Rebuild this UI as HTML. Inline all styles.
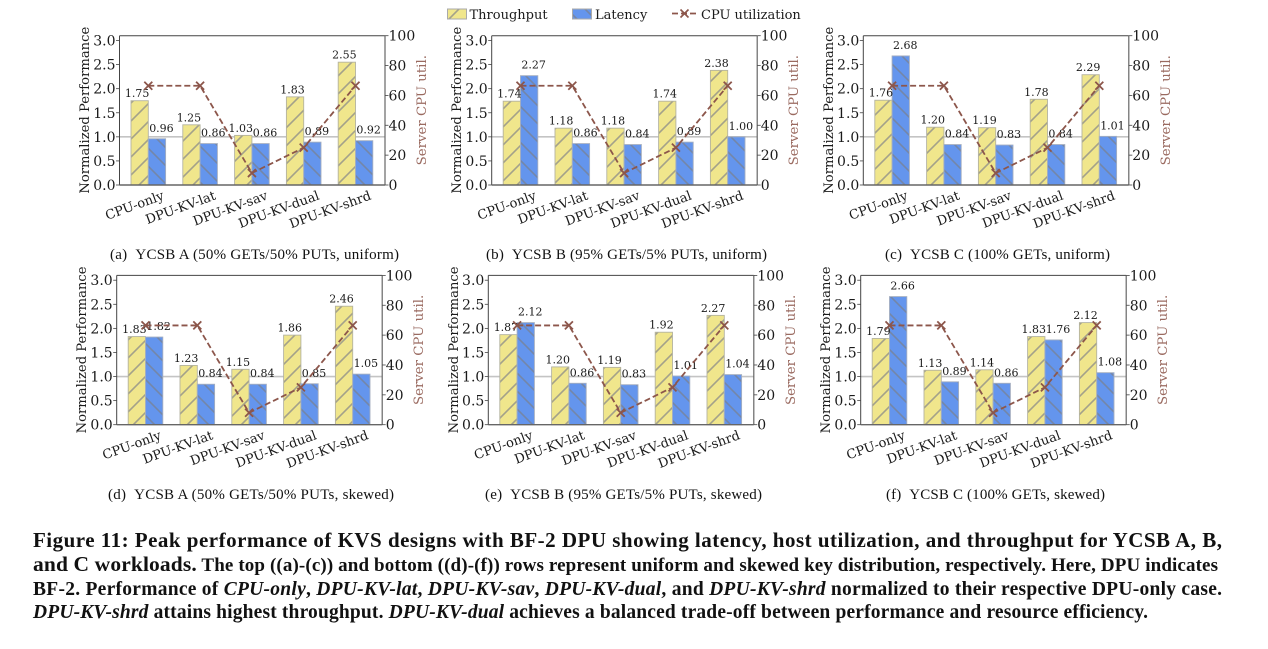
<!DOCTYPE html>
<html lang="en">
<head>
<meta charset="utf-8">
<title>Figure 11: Peak performance of KVS designs</title>
<style>
html,body{margin:0;padding:0;background:#fff;}
svg{display:block;}
.chart-text{font-family:"DejaVu Serif",serif;fill:#1a1a1a;}
.cap{font-family:"Liberation Serif",serif;fill:#111;}
</style>
</head>
<body>
<svg id="figure" xmlns="http://www.w3.org/2000/svg" width="1268" height="649" viewBox="0 0 1268 649">
  <defs>
    <pattern id="hatch-fwd" patternUnits="userSpaceOnUse" width="18" height="18">
      <rect width="18" height="18" fill="#f0e68c"/>
      <path d="M-2,2 L2,-2 M0,18 L18,0 M16,20 L20,16" stroke="#a3a18a" stroke-width="1.6"/>
    </pattern>
    <pattern id="hatch-back" patternUnits="userSpaceOnUse" width="18" height="18">
      <rect width="18" height="18" fill="#6495ed"/>
      <path d="M-2,16 L2,20 M0,0 L18,18 M16,-2 L20,2" stroke="#7486a8" stroke-width="1.6"/>
    </pattern>
  </defs>
  <rect width="1268" height="649" fill="#fff"/>

  <g id="legend">
    <g>
      <rect x="447.5" y="9" width="19" height="10" fill="url(#hatch-fwd)" stroke="#aaa" stroke-width="1"/>
      <text class="chart-text" x="469.5" y="19" font-size="13">Throughput</text>
    </g>
    <g>
      <rect x="572.5" y="9" width="19" height="10" fill="url(#hatch-back)" stroke="#aaa" stroke-width="1"/>
      <text class="chart-text" x="595" y="19" font-size="13">Latency</text>
    </g>
    <g>
      <line x1="672" y1="13.5" x2="697" y2="13.5" stroke="#8c564b" stroke-width="1.7" stroke-dasharray="6 3"/>
      <path d="M680.5,9.5 L688.5,17.5 M688.5,9.5 L680.5,17.5" stroke="#8c564b" stroke-width="1.6" fill="none"/>
      <text class="chart-text" x="701" y="19" font-size="13">CPU utilization</text>
    </g>
  </g>

  <g id="panels"></g>

  <g>
    <text class="cap" x="33" y="547" font-size="21" font-weight="bold" textLength="1189" lengthAdjust="spacing">Figure 11: Peak performance of KVS designs with BF-2 DPU showing latency, host utilization, and throughput for YCSB A, B,</text>
    <text class="cap" x="33" y="571" font-size="19" font-weight="bold" textLength="1185" lengthAdjust="spacing"><tspan font-size="21.5">and C workloads.</tspan> The top ((a)-(c)) and bottom ((d)-(f)) rows represent uniform and skewed key distribution, respectively. Here, DPU indicates</text>
    <text class="cap" x="33" y="595" font-size="19.5" font-weight="bold" textLength="1189" lengthAdjust="spacing">BF-2. Performance of <tspan font-style="italic">CPU-only</tspan>, <tspan font-style="italic">DPU-KV-lat</tspan>, <tspan font-style="italic">DPU-KV-sav</tspan>, <tspan font-style="italic">DPU-KV-dual</tspan>, and <tspan font-style="italic">DPU-KV-shrd</tspan> normalized to their respective DPU-only case.</text>
    <text class="cap" x="33" y="618" font-size="19.5" font-weight="bold" textLength="1115" lengthAdjust="spacing"><tspan font-style="italic">DPU-KV-shrd</tspan> attains highest throughput. <tspan font-style="italic">DPU-KV-dual</tspan> achieves a balanced trade-off between performance and resource efficiency.</text>
  </g>
</svg>

<script>
const categories = ['CPU-only', 'DPU-KV-lat', 'DPU-KV-sav', 'DPU-KV-dual', 'DPU-KV-shrd'];
const perfTicks = ['0.0', '0.5', '1.0', '1.5', '2.0', '2.5', '3.0'];
const cpuTicks = ['0', '20', '40', '60', '80', '100'];

const throughputA = [1.75, 1.25, 1.03, 1.83, 2.55];
const latencyA = [0.96, 0.86, 0.86, 0.89, 0.92];
const cpuA = [66.5, 66.5, 8, 25, 66.5];

const throughputB = [1.74, 1.18, 1.18, 1.74, 2.38];
const latencyB = [2.27, 0.86, 0.84, 0.89, 1.00];
const cpuB = [66.5, 66.5, 8, 25, 66.5];

const throughputC = [1.76, 1.20, 1.19, 1.78, 2.29];
const latencyC = [2.68, 0.84, 0.83, 0.84, 1.01];
const cpuC = [66.5, 66.5, 8, 25, 66.5];

const throughputD = [1.83, 1.23, 1.15, 1.86, 2.46];
const latencyD = [1.82, 0.84, 0.84, 0.85, 1.05];
const cpuD = [66.5, 66.5, 8, 25, 66.5];

const throughputE = [1.87, 1.20, 1.19, 1.92, 2.27];
const latencyE = [2.12, 0.86, 0.83, 1.01, 1.04];
const cpuE = [66.5, 66.5, 8, 25, 66.5];

const throughputF = [1.79, 1.13, 1.14, 1.83, 2.12];
const latencyF = [2.66, 0.89, 0.86, 1.76, 1.08];
const cpuF = [66.5, 66.5, 8, 25, 66.5];

const SVGNS = 'http://www.w3.org/2000/svg';
const PLOT_W = 265.5;
const PLOT_H = 149.3;
const PERF_MAX = 3.1;
const CPU_MAX = 100;
const GROUP_STEP = 51.8;
const FIRST_GROUP = 28.8;
const BAR_W = 17.3;
const panelsRoot = document.getElementById('panels');

function mk(tag, attrs, parent, text) {
  const el = document.createElementNS(SVGNS, tag);
  for (const k in attrs) el.setAttribute(k, attrs[k]);
  if (text !== undefined) el.textContent = text;
  parent.appendChild(el);
  return el;
}

function drawPanel(id, left, top, throughput, latency, cpu, caption, capX, capY, capLen) {
  const bottom = top + PLOT_H;
  const right = left + PLOT_W;
  const xGroup = i => left + FIRST_GROUP + i * GROUP_STEP;
  const yPerf = v => bottom - (v / PERF_MAX) * PLOT_H;
  const yCpu = v => bottom - (v / CPU_MAX) * PLOT_H;

  const g = mk('g', {}, panelsRoot);
  
  

  const refLine = mk('line', {x1: left, x2: right, y1: yPerf(1), y2: yPerf(1), stroke: '#c4c4c4', 'stroke-width': 1.6}, g);
  
  

  categories.forEach((name, i) => {
    const tBar = mk('rect', {x: xGroup(i) - BAR_W, y: yPerf(throughput[i]), width: BAR_W, height: bottom - yPerf(throughput[i]), fill: 'url(#hatch-fwd)', stroke: '#b4b3a0', 'stroke-width': 0.9}, g);
    
    
    const lBar = mk('rect', {x: xGroup(i), y: yPerf(latency[i]), width: BAR_W, height: bottom - yPerf(latency[i]), fill: 'url(#hatch-back)', stroke: '#a4aec0', 'stroke-width': 0.9}, g);
    
    
  });

  const frame = [
    ['top-spine', left, top, right, top, '#444', 1],
    ['left-spine', left, top, left, bottom, '#444', 1],
    ['right-spine', right, top, right, bottom, '#666', 1.2],
    ['bottom-spine', left, bottom, right, bottom, '#666', 1.4]
  ];
  frame.forEach(s => {
    const sp = mk('line', {x1: s[1], y1: s[2], x2: s[3], y2: s[4], stroke: s[5], 'stroke-width': s[6]}, g);
    
    
  });

  perfTicks.forEach(t => {
    const y = yPerf(parseFloat(t));
    mk('line', {x1: left - 3.5, x2: left, y1: y, y2: y, stroke: '#444', 'stroke-width': 0.8}, g);
    const lab = mk('text', {class: 'chart-text', x: left - 4, y: y + 5, 'text-anchor': 'end', 'font-size': 14}, g, t);
    
    
  });
  cpuTicks.forEach(t => {
    const y = yCpu(parseFloat(t));
    mk('line', {x1: right, x2: right + 3.5, y1: y, y2: y, stroke: '#444', 'stroke-width': 0.8}, g);
    const lab = mk('text', {class: 'chart-text', x: right + 3.5, y: y + 5, 'font-size': 14}, g, t);
    
    
  });

  categories.forEach((name, i) => {
    const bx = xGroup(i) + 16.5;
    const by = bottom + 14;
    const lab = mk('text', {class: 'chart-text', x: bx, y: by, 'text-anchor': 'end', 'font-size': 13, transform: 'rotate(-20 ' + bx + ' ' + by + ')'}, g, name);
    
    
  });

  const yTitleX = left - 30.5;
  const yTitleY = top + 74.5;
  const yTitle = mk('text', {class: 'chart-text', x: yTitleX, y: yTitleY, 'text-anchor': 'middle', 'font-size': 13.15, transform: 'rotate(-90 ' + yTitleX + ' ' + yTitleY + ')'}, g, 'Normalized Performance');
  
  

  const y2TitleX = right + 41;
  const y2TitleY = top + 74.5;
  const y2Title = mk('text', {class: 'chart-text', x: y2TitleX, y: y2TitleY, 'text-anchor': 'middle', 'font-size': 13.3, style: 'fill:#9a6a60', transform: 'rotate(-90 ' + y2TitleX + ' ' + y2TitleY + ')'}, g, 'Server CPU util.');
  
  

  categories.forEach((name, i) => {
    const tVal = mk('text', {class: 'chart-text', x: xGroup(i) - BAR_W / 2 - 2.5, y: yPerf(throughput[i]) - 3.5, 'text-anchor': 'middle', 'font-size': 11}, g, throughput[i].toFixed(2));
    
    
    const lVal = mk('text', {class: 'chart-text', x: xGroup(i) + BAR_W / 2 + 4.5, y: yPerf(latency[i]) - 7, 'text-anchor': 'middle', 'font-size': 11}, g, latency[i].toFixed(2));
    
    
  });

  const pts = cpu.map((v, i) => xGroup(i) + ',' + yCpu(v)).join(' ');
  const line = mk('polyline', {points: pts, fill: 'none', stroke: '#8c564b', 'stroke-width': 1.8, 'stroke-dasharray': '6 3'}, g);
  
  
  cpu.forEach((v, i) => {
    const x = xGroup(i);
    const y = yCpu(v);
    const d = 'M' + (x - 4) + ',' + (y - 4) + ' L' + (x + 4) + ',' + (y + 4) + ' M' + (x + 4) + ',' + (y - 4) + ' L' + (x - 4) + ',' + (y + 4);
    const marker = mk('path', {d: d, stroke: '#8c564b', 'stroke-width': 1.8, fill: 'none'}, g);
    
    
  });

  const cap = mk('text', {class: 'cap', x: capX, y: capY, 'font-size': 15, textLength: capLen, lengthAdjust: 'spacing'}, g, caption);
  
  
}

drawPanel('a', 119.5, 35.7, throughputA, latencyA, cpuA, '(a)\u00a0\u00a0YCSB A (50% GETs/50% PUTs, uniform)', 110, 259, 289);
drawPanel('b', 491.7, 35.7, throughputB, latencyB, cpuB, '(b)\u00a0\u00a0YCSB B (95% GETs/5% PUTs, uniform)', 486, 259, 281);
drawPanel('c', 863.3, 35.7, throughputC, latencyC, cpuC, '(c)\u00a0\u00a0YCSB C (100% GETs, uniform)', 885, 259, 225);
drawPanel('d', 116.7, 275.4, throughputD, latencyD, cpuD, '(d)\u00a0\u00a0YCSB A (50% GETs/50% PUTs, skewed)', 108, 499, 286);
drawPanel('e', 488.3, 275.4, throughputE, latencyE, cpuE, '(e)\u00a0\u00a0YCSB B (95% GETs/5% PUTs, skewed)', 485, 499, 277);
drawPanel('f', 860.7, 275.4, throughputF, latencyF, cpuF, '(f)\u00a0\u00a0YCSB C (100% GETs, skewed)', 886, 499, 219);
</script>
</body>
</html>
